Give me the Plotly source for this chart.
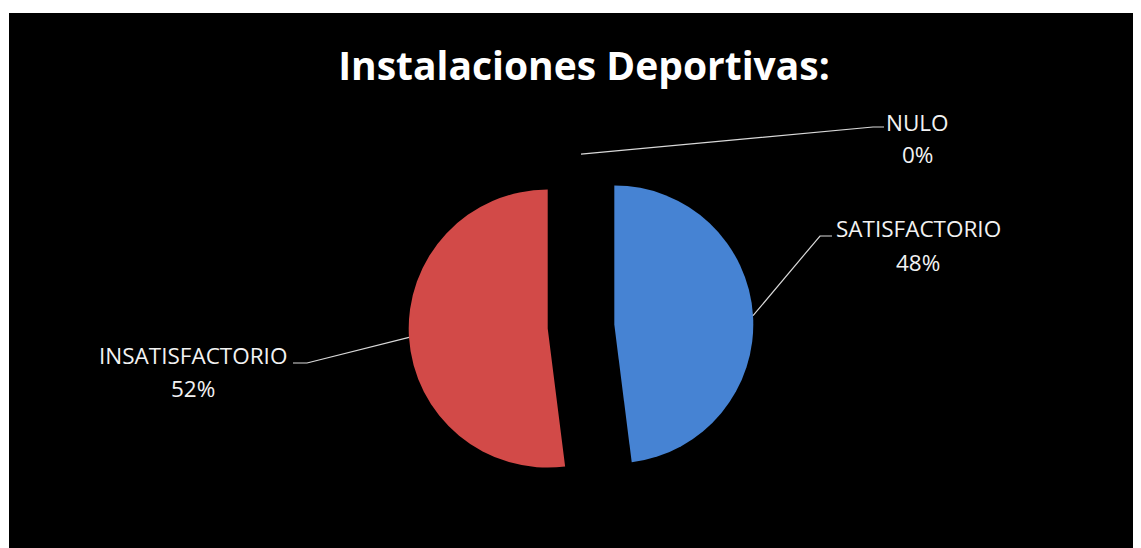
import plotly.graph_objects as go
import math

# ---- data ----
categories = ["SATISFACTORIO", "INSATISFACTORIO", "NULO"]
values = [48, 52, 0]
pct_labels = ["48%", "52%", "0%"]
colors = ["#4683D3", "#D24A48", "#9BBB59"]
title_text = "Instalaciones Deportivas:"

# ---- layout constants ----
OFF = 8                      # browser body margin
W, H = 1141 - OFF, 548 - OFF
ML, MT = 9 - OFF, 13 - OFF
PW, PH = W - ML, H - MT
PULL = 0.24
# pie centre (screen px) and radius target
CX_S, CY_S, R_T = 581, 326.5, 139

box = 2 * R_T * (1 + PULL)
cxf, cyf = CX_S - OFF, CY_S - OFF
DOM_X = [(cxf - ML - box / 2) / PW, (cxf - ML + box / 2) / PW]
DOM_Y = [(H - cyf - box / 2) / PH, (H - cyf + box / 2) / PH]

fig = go.Figure()
fig.add_trace(go.Pie(
    labels=categories, values=values, sort=False, direction="clockwise",
    rotation=0, pull=[PULL] * len(values), textinfo="none", hoverinfo="label+percent",
    marker=dict(colors=colors, line=dict(width=0)),
    domain=dict(x=DOM_X, y=DOM_Y), showlegend=False,
))

# pie geometry (same formula plotly uses), in figure pixels
box_w = PW * (DOM_X[1] - DOM_X[0])
box_h = PH * (DOM_Y[1] - DOM_Y[0])
r = min(box_w, box_h) / (2 + 2 * PULL)
cx = ML + PW * (DOM_X[0] + DOM_X[1]) / 2
cy = MT + PH * (1 - DOM_Y[0]) - box_h / 2

def px2paper(x, y):
    # figure pixels -> paper fraction
    return (x - ML) / PW, (H - y) / PH

def scr(x, y):
    # screen pixel -> figure pixel
    return x - OFF, y - OFF

total = sum(values)
cum = 0
anchors = []
for v in values:
    mid = (cum + v / 2) / total * 2 * math.pi
    cum += v
    sx, sy = math.sin(mid), -math.cos(mid)
    ox, oy = cx + PULL * r * sx, cy + PULL * r * sy
    anchors.append((ox + r * sx, oy + r * sy))

# label placement in screen px: (elbow x, elbow y, end x, label centre x, name y, pct y)
label_pos = {
    "SATISFACTORIO": (820, 236, 832, 918, 229, 262),
    "INSATISFACTORIO": (307, 363, 293, 193, 355, 388),
    "NULO": (873, 127, 884, 917, 122, 155),
}

shapes = [dict(type="rect", xref="paper", yref="paper", x0=0, x1=1, y0=0, y1=1,
               fillcolor="black", line=dict(width=0), layer="below")]
annotations = []
for cat, pct, (ax, ay) in zip(categories, pct_labels, anchors):
    ex, ey, tx, lx, ny, py = label_pos[cat]
    pts = [px2paper(ax, ay), px2paper(*scr(ex, ey)), px2paper(*scr(tx, ey))]
    path = "M {} {} L {} {} L {} {}".format(*[c for p in pts for c in p])
    shapes.append(dict(type="path", xref="paper", yref="paper", path=path,
                       line=dict(color="#D9D9D9", width=1.2)))
    for txt, yy in ((cat, ny), (pct, py)):
        x_, y_ = px2paper(*scr(lx, yy))
        annotations.append(dict(text=txt, x=x_, y=y_, xref="paper", yref="paper",
                                xanchor="center", yanchor="middle", showarrow=False,
                                font=dict(family="Open Sans", size=22.5, color="#F2F2F2")))

fig.update_layout(
    width=W, height=H,
    margin=dict(l=ML, r=0, t=MT, b=0),
    paper_bgcolor="white",
    shapes=shapes, annotations=annotations,
    title=dict(text="<b>" + title_text + "</b>", x=(584 - OFF) / W, xanchor="center",
               y=1 - (66 - OFF) / H, yanchor="middle", yref="container",
               font=dict(family="Open Sans", size=39, color="white")),
)
fig.write_html("out.html")
